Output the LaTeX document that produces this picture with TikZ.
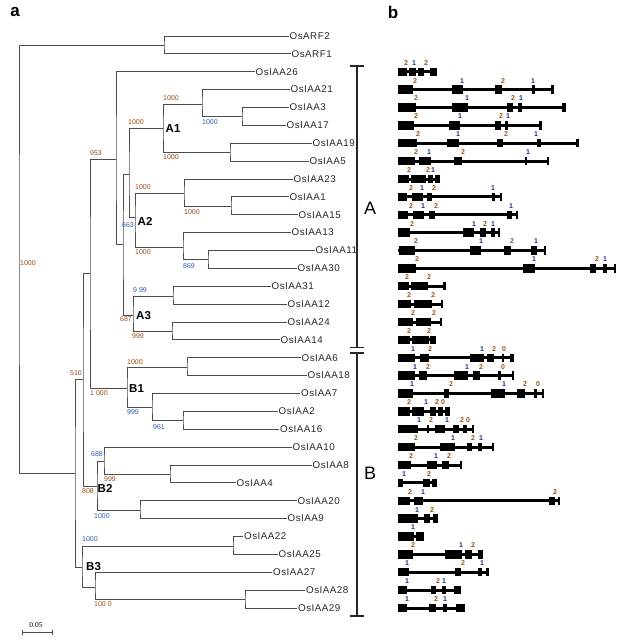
\documentclass[tikz,border=0pt]{standalone}
\usepackage{fontspec}
\setmainfont{Liberation Sans}
\newfontfamily\scalefont{Liberation Serif}
\newfontfamily\leaffont[LetterSpace=5]{Liberation Sans}
\definecolor{brn}{RGB}{150,75,20}
\definecolor{bsblu}{RGB}{40,90,175}
\definecolor{ph0}{RGB}{150,80,20}
\definecolor{ph1}{RGB}{25,45,140}
\definecolor{ph2}{RGB}{150,80,20}
\newcommand\generow[4]{%
  \draw[intron] (398,#1) -- (#2,#1);
  \foreach \a/\b in {#3} \fill (\a,#1-4.2) rectangle (\b,#1+4.2);
  \foreach \p/\t in {#4} \node[phase,text=ph\t] at (\p,#1-9) {\t};
}
\begin{document}
\begin{tikzpicture}[x=1pt,y=-1pt,
  br/.style={draw=black!70,line width=0.9pt},
  leaf/.style={anchor=west,inner sep=1pt,font=\leaffont\fontsize{9.8}{10}\selectfont,text=black!85},
  bs/.style={anchor=west,inner sep=0pt,font=\fontsize{7}{7}\selectfont},
  clade/.style={anchor=west,inner sep=0pt,font=\bfseries\fontsize{11.5}{12}\selectfont},
  phase/.style={inner sep=0pt,font=\bfseries\fontsize{7}{7}\selectfont},
  intron/.style={line width=3pt,black},
  bracket/.style={line width=1.8pt,black!85},
  big/.style={inner sep=0pt,font=\fontsize{18}{20}\selectfont},
  panel/.style={inner sep=0pt,font=\bfseries\fontsize{17}{18}\selectfont}]
\useasboundingbox (0,0) rectangle (635,640);

% panel letters
\node[panel] (pa) at (15,12) {a};
\node[panel] (pb) at (393,12) {b};

% leaves
\node[leaf] (ARF2) at (288.5,36) {OsARF2};
\node[leaf] (ARF1) at (290.5,53.9) {OsARF1};
\node[leaf] (IAA26) at (254.5,71.75) {OsIAA26};
\node[leaf] (IAA21) at (289.5,89.6) {OsIAA21};
\node[leaf] (IAA3) at (288.5,107.5) {OsIAA3};
\node[leaf] (IAA17) at (285.5,125.4) {OsIAA17};
\node[leaf] (IAA19) at (311.5,143.25) {OsIAA19};
\node[leaf] (IAA5) at (308.5,161.1) {OsIAA5};
\node[leaf] (IAA23) at (292.5,179) {OsIAA23};
\node[leaf] (IAA1) at (288.5,196.9) {OsIAA1};
\node[leaf] (IAA15) at (297.5,214.75) {OsIAA15};
\node[leaf] (IAA13) at (290.5,232.6) {OsIAA13};
\node[leaf] (IAA11) at (314.5,250.5) {OsIAA11};
\node[leaf] (IAA30) at (296.5,268.4) {OsIAA30};
\node[leaf] (IAA31) at (270.5,286.25) {OsIAA31};
\node[leaf] (IAA12) at (286.5,304.1) {OsIAA12};
\node[leaf] (IAA24) at (286.5,322) {OsIAA24};
\node[leaf] (IAA14) at (279.5,339.9) {OsIAA14};
\node[leaf] (IAA6) at (300.5,357.75) {OsIAA6};
\node[leaf] (IAA18) at (306.5,375.6) {OsIAA18};
\node[leaf] (IAA7) at (300,393.5) {OsIAA7};
\node[leaf] (IAA2) at (277.5,411.4) {OsIAA2};
\node[leaf] (IAA16) at (279,429.25) {OsIAA16};
\node[leaf] (IAA10) at (291.5,447.1) {OsIAA10};
\node[leaf] (IAA8) at (311.5,465) {OsIAA8};
\node[leaf] (IAA4) at (235.5,482.9) {OsIAA4};
\node[leaf] (IAA20) at (296.5,500.75) {OsIAA20};
\node[leaf] (IAA9) at (286.5,518.6) {OsIAA9};
\node[leaf] (IAA22) at (243,536.5) {OsIAA22};
\node[leaf] (IAA25) at (277.5,554.4) {OsIAA25};
\node[leaf] (IAA27) at (272,572.25) {OsIAA27};
\node[leaf] (IAA28) at (305,590.1) {OsIAA28};
\node[leaf] (IAA29) at (297,608) {OsIAA29};

% internal node coordinates
\coordinate (ARF) at (164,45);
\coordinate (A1a2) at (242,116.5);
\coordinate (A1a) at (202,104);
\coordinate (A1b) at (230,152);
\coordinate (A1) at (163,128);
\coordinate (A2a2) at (231,206);
\coordinate (A2a) at (184,193);
\coordinate (A2b2) at (208,259.5);
\coordinate (A2b) at (183,247);
\coordinate (A2) at (135,217);
\coordinate (A12) at (129,174);
\coordinate (A3a) at (173,296);
\coordinate (A3b) at (172,331);
\coordinate (A3) at (133,315);
\coordinate (N663) at (123,244);
\coordinate (N953) at (116,159);
\coordinate (B1a) at (187,367);
\coordinate (B1b2) at (183,420);
\coordinate (B1b) at (152,407);
\coordinate (B1) at (127,388);
\coordinate (NAB) at (90,273);
\coordinate (B2c) at (170,474);
\coordinate (N688) at (104,461);
\coordinate (B2d) at (140,510);
\coordinate (B2) at (97,486);
\coordinate (NX) at (83,379);
\coordinate (B3a) at (233,546);
\coordinate (B3c) at (245,599);
\coordinate (B3b) at (95,587);
\coordinate (B3) at (82,567);
\coordinate (N510) at (75,473);

% branches
\draw[br] (ARF2.west) -| (ARF) |- (ARF1.west);
\draw[br] (IAA3.west) -| (A1a2) |- (IAA17.west);
\draw[br] (IAA21.west) -| (A1a) |- (A1a2);
\draw[br] (IAA19.west) -| (A1b) |- (IAA5.west);
\draw[br] (A1a) -| (A1) |- (A1b);
\draw[br] (IAA1.west) -| (A2a2) |- (IAA15.west);
\draw[br] (IAA23.west) -| (A2a) |- (A2a2);
\draw[br] (IAA11.west) -| (A2b2) |- (IAA30.west);
\draw[br] (IAA13.west) -| (A2b) |- (A2b2);
\draw[br] (A2a) -| (A2) |- (A2b);
\draw[br] (A1) -| (A12) |- (A2);
\draw[br] (IAA31.west) -| (A3a) |- (IAA12.west);
\draw[br] (IAA24.west) -| (A3b) |- (IAA14.west);
\draw[br] (A3a) -| (A3) |- (A3b);
\draw[br] (A12) -| (N663) |- (A3);
\draw[br] (IAA26.west) -| (N953) |- (N663);
\draw[br] (IAA6.west) -| (B1a) |- (IAA18.west);
\draw[br] (IAA2.west) -| (B1b2) |- (IAA16.west);
\draw[br] (IAA7.west) -| (B1b) |- (B1b2);
\draw[br] (B1a) -| (B1) |- (B1b);
\draw[br] (N953) -| (NAB) |- (B1);
\draw[br] (IAA8.west) -| (B2c) |- (IAA4.west);
\draw[br] (IAA10.west) -| (N688) |- (B2c);
\draw[br] (IAA20.west) -| (B2d) |- (IAA9.west);
\draw[br] (N688) -| (B2) |- (B2d);
\draw[br] (NAB) -| (NX) |- (B2);
\draw[br] (IAA22.west) -| (B3a) |- (IAA25.west);
\draw[br] (IAA28.west) -| (B3c) |- (IAA29.west);
\draw[br] (IAA27.west) -| (B3b) |- (B3c);
\draw[br] (B3a) -| (B3) |- (B3b);
\draw[br] (NX) -| (N510) |- (B3);
\draw[br] (ARF) -| (19,260) |- (N510);

% bootstrap values
\node[bs,text=brn] (b1) at (20,263) {1000};
\node[bs,text=brn] (b2) at (163,98) {1000};
\node[bs,text=brn] (b3) at (128,122) {1000};
\node[bs,text=bsblu] (b4) at (202,122) {1000};
\node[bs,text=brn] (b5) at (90,153) {953};
\node[bs,text=brn] (b6) at (163,157) {1000};
\node[bs,text=brn] (b7) at (135,187) {1000};
\node[bs,text=bsblu] (b8) at (122,225) {663};
\node[bs,text=brn] (b9) at (184,212) {1000};
\node[bs,text=brn] (b10) at (135,252) {1000};
\node[bs,text=bsblu] (b11) at (183,266) {869};
\node[bs,text=bsblu] (b12) at (133,290) {9 99};
\node[bs,text=brn] (b13) at (120,319) {687};
\node[bs,text=brn] (b14) at (132,336) {999};
\node[bs,text=brn] (b15) at (127,362) {1000};
\node[bs,text=brn] (b16) at (90,393) {1 000};
\node[bs,text=bsblu] (b17) at (127,412) {999};
\node[bs,text=bsblu] (b18) at (153,427) {961};
\node[bs,text=brn] (b19) at (70,373) {510};
\node[bs,text=bsblu] (b20) at (91,454) {688};
\node[bs,text=brn] (b21) at (104,479) {999};
\node[bs,text=brn] (b22) at (82,491) {808};
\node[bs,text=bsblu] (b23) at (94,516) {1000};
\node[bs,text=bsblu] (b24) at (82,539) {1000};
\node[bs,text=brn] (b25) at (94,604) {100 0};

% clade names
\node[clade] (cA1) at (165.5,129) {A1};
\node[clade] (cA2) at (137.5,221) {A2};
\node[clade] (cA3) at (136,316) {A3};
\node[clade] (cB1) at (129,389) {B1};
\node[clade] (cB2) at (97.5,488) {B2};
\node[clade] (cB3) at (86,567) {B3};

% scale bar
\node[inner sep=0pt,font=\scalefont\fontsize{7.5}{8}\selectfont] (sc) at (36,625) {0.05};
\coordinate (s1) at (22,632);
\coordinate (s2) at (52,632);
\draw[black!70,line width=0.7pt] (s1) -- (s2);
\draw[black!70,line width=0.7pt] ([yshift=-2.5pt]s1) -- ([yshift=2.5pt]s1);
\draw[black!70,line width=0.7pt] ([yshift=-2.5pt]s2) -- ([yshift=2.5pt]s2);

% bracket
\coordinate (brt) at (357,66);
\coordinate (brm1) at (357,347.5);
\coordinate (brm2) at (357,353);
\coordinate (brb) at (357,616);
\draw[bracket] (brt) -- (brm1);
\draw[bracket] (brm2) -- (brb);
\draw[bracket] ([xshift=-7pt]brt) -- ([xshift=7pt]brt);
\draw[bracket] ([xshift=-7pt]brm1) -- ([xshift=7pt]brm1);
\draw[bracket] ([xshift=-7pt]brm2) -- ([xshift=7pt]brm2);
\draw[bracket] ([xshift=-7pt]brb) -- ([xshift=7pt]brb);
\node[big] (gA) at (370,208) {A};
\node[big] (gB) at (370,473) {B};

% gene structures
\generow{71.75}{437}{398/407,409/416,418/424,430/437}{406/2,414/1,426/2}
\generow{89.6}{554}{398/413,452/463,495/502,532/535,551/554}{415/2,462/1,503/2,533/1}
\generow{107.5}{566}{398/416,452/468,507/513,518/522,562/566}{416/2,467/1,513/2,521/1}
\generow{125.4}{542}{398/414,449/460,495/501,505/508,539/542}{416/2,460/1,501/2,508/1}
\generow{143.25}{579}{398/417,447/459,497/503,537/541,576/579}{418/2,458/1,506/2,536/1}
\generow{161.1}{549}{398/415,419/431,454/462,525/527,547/549}{416/2,429/1,463/2,528/1}
\generow{179}{440}{398/409,411/426,428/433,435/440}{409/2,428/2,433/1}
\generow{196.9}{502}{398/407,412/423,427/432,492/495,500/502}{411/2,422/1,434/2,493/1}
\generow{214.75}{518}{398/408,413/424,429/435,507/512,516/518}{411/2,423/1,436/2,511/1}
\generow{232.6}{500}{398/410,463/474,480/486,491/495,498/500}{412/2,474/1,485/2,493/1}
\generow{250.5}{546}{399/415,470/481,504/511,531/537,544/546}{416/2,481/1,512/2,536/1}
\generow{268.4}{616}{398/416,523/535,590/596,603/607,614/616}{417/2,534/1,597/2,605/1}
\generow{286.25}{446}{398/409,411/428,443/446}{407/2,429/2}
\generow{304.1}{443}{398/411,414/432,441/443}{409/2,433/2}
\generow{322}{442}{398/413,416/431,440/442}{413/2,434/2}
\generow{339.9}{436}{398/410,412/429,430/436}{409/2,429/2}
\generow{357.75}{514}{398/415,420/429,470/484,487/494,502/504,510/514}{413/1,430/2,482/1,494/2,504/0}
\generow{375.6}{514}{398/415,419/427,454/468,473/480,498/501,512/514}{415/1,428/2,467/1,481/2,503/0}
\generow{393.5}{544}{398/413,444/449,491/505,517/525,534/537,542/544}{412/1,451/2,504/1,525/2,538/0}
\generow{411.4}{450}{398/410,412/424,430/436,438/443,445/450}{409/2,426/1,437/2,443/0}
\generow{429.25}{474}{398/418,427/429,435/445,453/459,463/467,472/474}{419/1,431/2,447/1,462/2,468/0}
\generow{447.1}{494}{398/415,440/455,467/472,478/482,492/494}{416/2,453/1,473/2,481/1}
\generow{465}{462}{398/411,427/437,442/449,460/462}{411/2,436/1,449/2}
\generow{482.9}{437}{398/403,423/430,432/437}{404/1,429/2}
\generow{500.75}{560}{398/410,414/423,549/555,558/560}{410/2,423/1,555/2}
\generow{518.6}{438}{398/418,424/430,433/438}{417/1,432/2}
\generow{536.5}{424}{398/414,416/424}{413/1}
\generow{554.4}{483}{398/413,445/462,465/472,478/483}{413/2,461/1,473/2}
\generow{572.25}{489}{398/409,455/461,478/482,486/489}{407/1,463/2,482/1}
\generow{590.1}{461}{398/407,431/436,442/446,454/461}{407/1,438/2,444/1}
\generow{608}{465}{398/407,429/436,443/447,456/465}{407/1,436/2,445/1}
\end{tikzpicture}
\end{document}
